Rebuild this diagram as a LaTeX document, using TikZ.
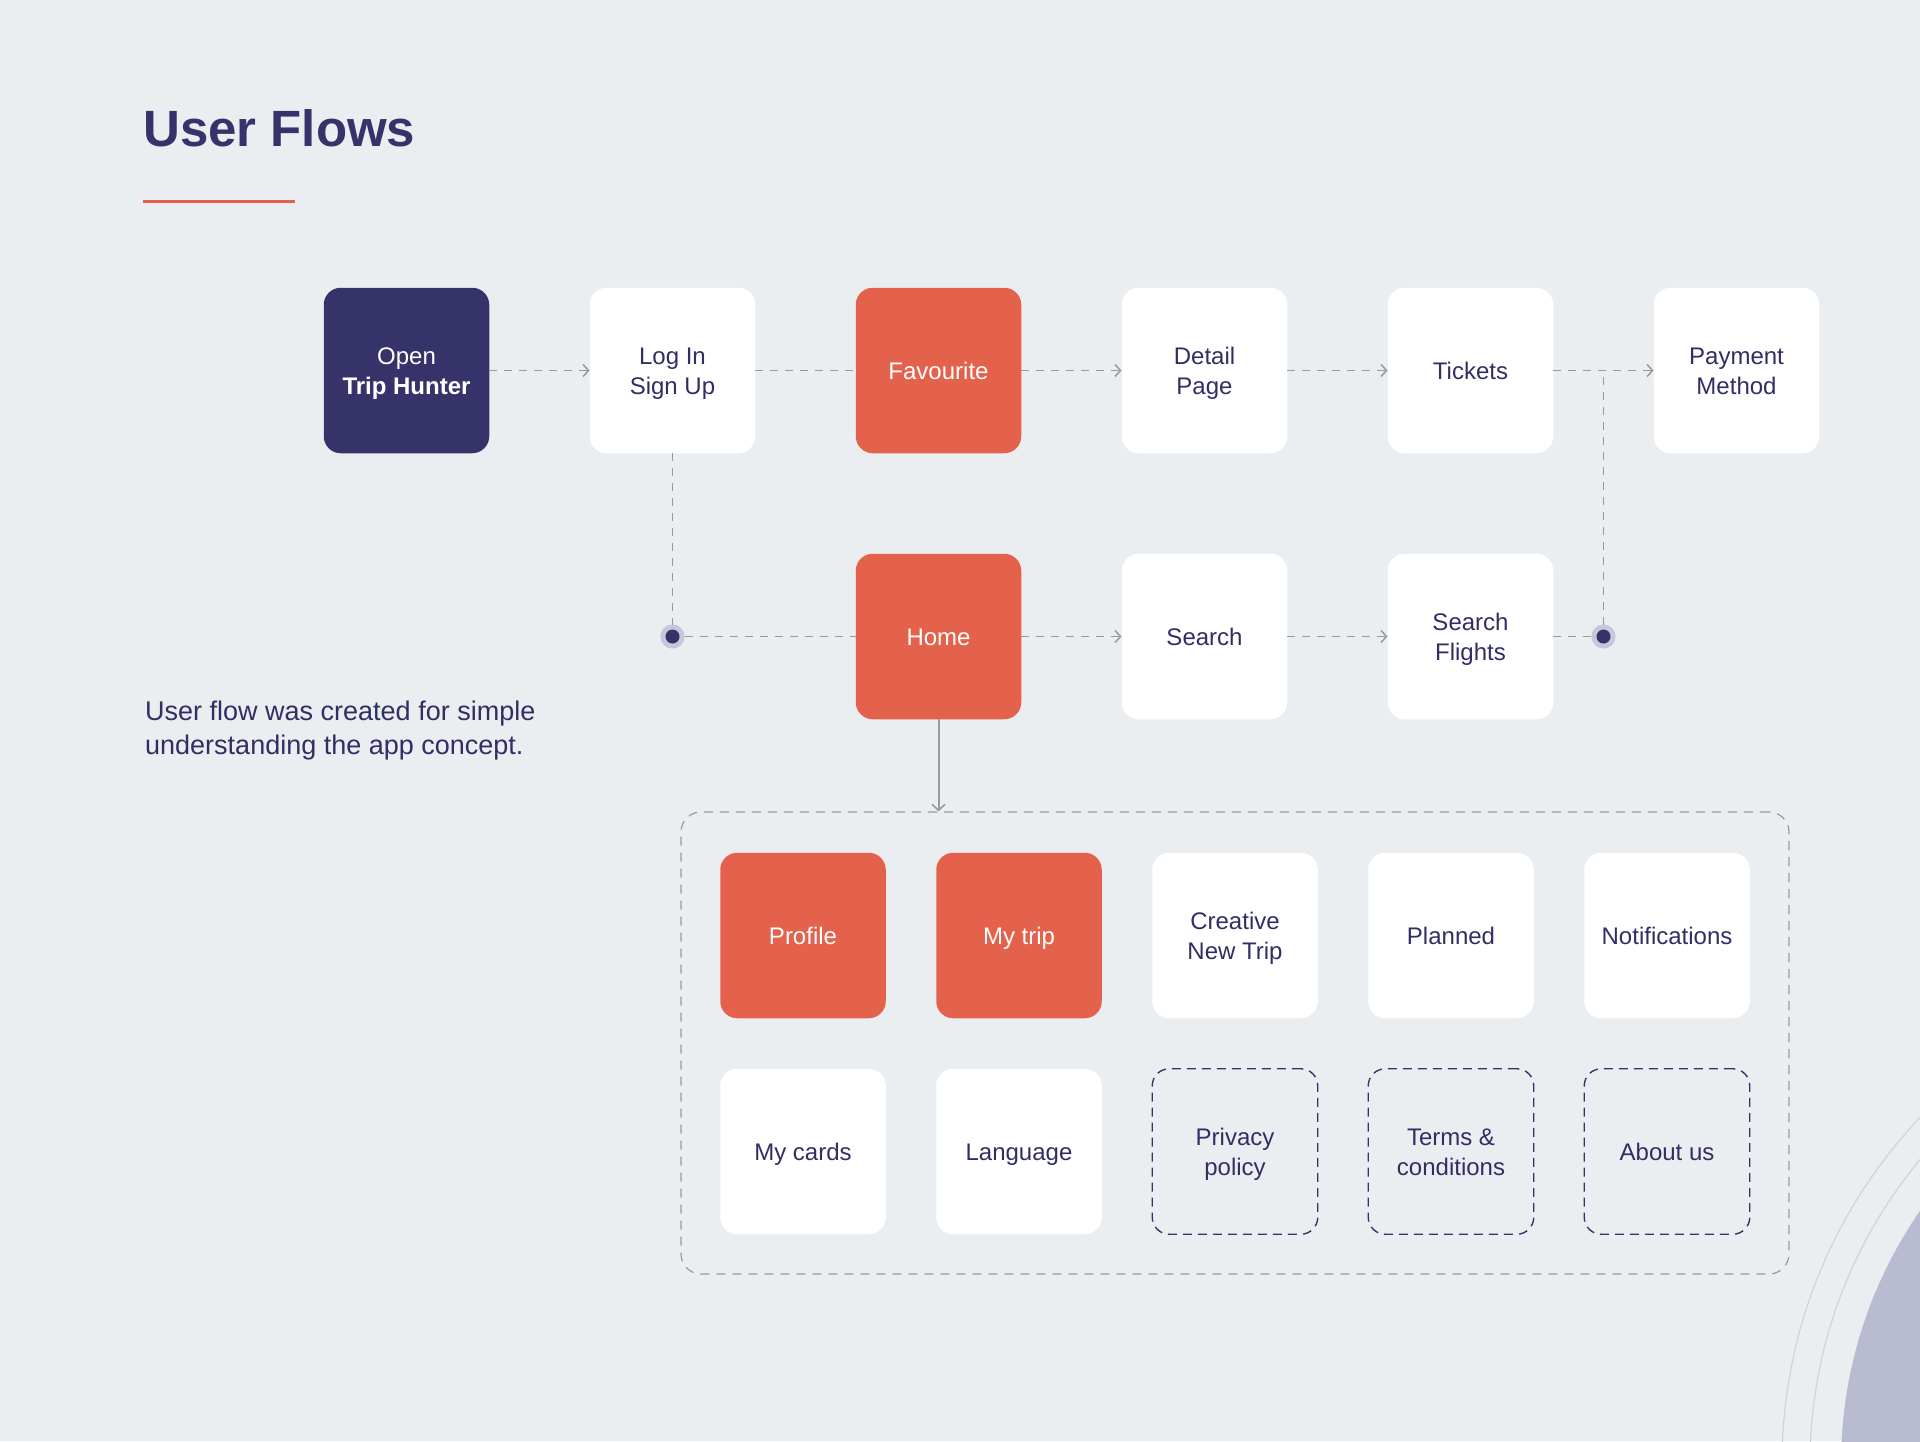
\documentclass[tikz,border=0pt]{standalone}
\usepackage{fontspec}
\setmainfont{Liberation Sans}
\usetikzlibrary{arrows.meta}

\definecolor{bg}{HTML}{EBEEF1}
\definecolor{navy}{HTML}{35336A}
\definecolor{ink}{HTML}{302F64}
\definecolor{coral}{HTML}{E4614C}
\definecolor{wire}{HTML}{9A9A9C}
\definecolor{ring}{HTML}{C6C7D8}
\definecolor{lilac}{HTML}{B9BBD0}
\definecolor{arcgray}{HTML}{D2D3D7}

\begin{document}
\begin{tikzpicture}[x=1pt,y=-1pt,
  card/.style={rounded corners=17pt, minimum width=165.5pt, minimum height=165.5pt,
    inner sep=0pt, align=center, font=\fontsize{24}{30}\selectfont,
    text height=17.2pt, text depth=0pt},
  twolines/.style={text height=47.2pt, text depth=0pt},
  plaincard/.style={card, fill=white, text=ink},
  hotcard/.style={card, fill=coral, text=white},
  darkcard/.style={card, fill=navy, text=white},
  ghostcard/.style={card, draw=navy, line width=1.4pt, dash pattern=on 9pt off 6pt, text=ink},
  frame/.style={rounded corners=20pt, draw=wire, line width=1.2pt, dash pattern=on 9pt off 7pt,
    minimum width=1108pt, minimum height=462pt, inner sep=0pt},
  link/.style={draw=wire, line width=1.8pt, dash pattern=on 8pt off 7pt},
  flow/.style={link, -{Straight Barb[length=5.5pt,width=12pt,line width=1.5pt]}},
  drop/.style={draw=wire, line width=2pt, -{Straight Barb[length=6pt,width=13pt,line width=1.6pt]}},
  joint/.style={circle, fill=navy, minimum size=14pt, inner sep=0pt, outer sep=5pt,
    preaction={draw=ring, line width=10pt}},
]
% page
\fill[bg] (0,0) rectangle (1920,1441);
\useasboundingbox (0,0) rectangle (1920,1441);

% decorative rings in the lower right corner
\begin{scope}
  \clip (0,0) rectangle (1920,1441);
  \fill[lilac] (2286,1464) circle[radius=445pt];
  \draw[arcgray, line width=1.2pt] (2286,1464) circle[radius=476pt];
  \draw[arcgray, line width=1.2pt] (2286,1464) circle[radius=504pt];
\end{scope}

% heading
\node[anchor=base west, inner sep=0pt, text=navy, font=\fontsize{51}{60}\selectfont\bfseries]
  (title) at (143,146) {User Flows};
\draw[coral, line width=3pt] (143,201) -- (295,201);

\node[anchor=base west, inner sep=0pt, text=ink, align=left,
  font=\fontsize{27}{33.5}\selectfont] (note) at (145,754.2)
  {User flow was created for simple\\understanding the app concept.};

% main flow
\node[darkcard, twolines] (open) at (406.5,370.5) {Open\\\textbf{Trip Hunter}};
\node[plaincard, twolines] (login) at (672.5,370.5) {Log In\\Sign Up};
\node[hotcard] (fav) at (938.5,370.5) {Favourite};
\node[plaincard, twolines] (detail) at (1204.5,370.5) {Detail\\Page};
\node[plaincard] (tickets) at (1470.5,370.5) {Tickets};
\node[plaincard, twolines] (payment) at (1736.5,370.5) {Payment\\Method};

\node[hotcard] (home) at (938.5,636.5) {Home};
\node[plaincard] (search) at (1204.5,636.5) {Search};
\node[plaincard, twolines] (flights) at (1470.5,636.5) {Search\\Flights};

\node[joint] (jl) at (672.5,636.5) {};
\node[joint] (jr) at (1603.5,636.5) {};

% menu group
\node[frame] (group) at (1235,1043) {};

\node[hotcard] (profile) at (803,935.5) {Profile};
\node[hotcard] (mytrip) at (1019,935.5) {My trip};
\node[plaincard, twolines] (newtrip) at (1235,935.5) {Creative\\New Trip};
\node[plaincard] (planned) at (1451,935.5) {Planned};
\node[plaincard] (notif) at (1667,935.5) {Notifications};

\node[plaincard] (cards) at (803,1151.5) {My cards};
\node[plaincard] (lang) at (1019,1151.5) {Language};
\node[ghostcard, twolines] (privacy) at (1235,1151.5) {Privacy\\policy};
\node[ghostcard, twolines] (terms) at (1451,1151.5) {Terms \&\\conditions};
\node[ghostcard] (about) at (1667,1151.5) {About us};

% connectors
\draw[flow] (open) -- (login);
\draw[link] (login) -- (fav);
\draw[flow] (fav) -- (detail);
\draw[flow] (detail) -- (tickets);
\draw[flow] (tickets) -- (payment);

\draw[link] (login) -- (jl);
\draw[link] (jl) -- (home);
\draw[flow] (home) -- (search);
\draw[flow] (search) -- (flights);
\draw[link] (flights) -- (jr);
\draw[link] (jr) -- (jr |- tickets);

\draw[drop] (home) -- (home |- group.north);
\end{tikzpicture}
\end{document}
